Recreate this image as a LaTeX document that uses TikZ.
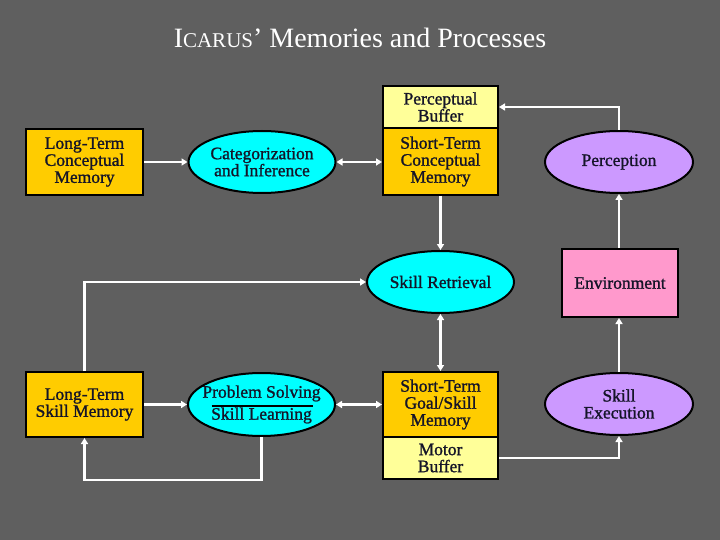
\documentclass[tikz,border=0pt]{standalone}
\usepackage{fontspec}
\setmainfont{Liberation Serif}
\newfontfamily\boxfont[FakeBold=1.2]{Liberation Serif}
\usetikzlibrary{shapes.geometric,arrows.meta}
\definecolor{bg}{HTML}{5F5F5F}
\definecolor{gold}{HTML}{FFCC00}
\definecolor{lyellow}{HTML}{FFFF99}
\definecolor{cyanb}{HTML}{00FFFF}
\definecolor{lav}{HTML}{CC99FF}
\definecolor{pinkb}{HTML}{FF99CC}
\definecolor{ink}{HTML}{141428}
\tikzset{
  base/.style={draw=black,line width=2pt,align=center,inner sep=0pt,
    font=\boxfont\fontsize{17.5}{17}\selectfont,text=ink},
  mem/.style={base,rectangle,fill=gold},
  buf/.style={base,rectangle,fill=lyellow},
  oval/.style={base,ellipse,inner xsep=-40pt,inner ysep=-6pt},
  proc/.style={oval,fill=cyanb,minimum width=147pt,minimum height=62pt},
  ext/.style={oval,fill=lav,minimum width=148pt,minimum height=62pt},
  env/.style={base,rectangle,fill=pinkb},
  arr/.style={draw=white,line width=2.5pt,-{Triangle[length=6pt,width=7pt]}},
  darr/.style={draw=white,line width=2.5pt,{Triangle[length=6pt,width=7pt]}-{Triangle[length=6pt,width=7pt]}},
  ln/.style={draw=white,line width=2.5pt}
}
\begin{document}
\begin{tikzpicture}[x=1pt,y=-1pt]
\fill[bg] (0,0) rectangle (720,540);
\useasboundingbox (0,0) rectangle (720,540);
\node[anchor=base,text=white,inner sep=0pt,font=\fontsize{28}{28}\selectfont] (title) at (360,48)
  {I{\fontsize{21}{21}\selectfont CARUS}’ Memories and Processes};
% nodes
\node[mem,minimum width=117pt,minimum height=66pt] (ltcm) at (84.5,162) {Long-Term\\Conceptual\\Memory};
\node[proc] (cat) at (262,162) {Categorization\\and Inference};
\node[buf,minimum width=115pt,minimum height=42pt] (pb) at (440.5,107) {Perceptual\\Buffer};
\node[mem,minimum width=115pt,minimum height=67pt] (stcm) at (440.5,161.5) {Short-Term\\Conceptual\\Memory};
\node[ext] (perc) at (619,162) {Perception};
\node[proc] (sr) at (440.5,282) {Skill Retrieval};
\node[env,minimum width=116pt,minimum height=68pt] (env) at (620,283) {Environment};
\node[mem,minimum width=117pt,minimum height=65pt] (ltsm) at (84.5,404.5) {Long-Term\\Skill Memory};
\node[proc,minimum height=63pt,font=\boxfont\fontsize{17.5}{22}\selectfont] (ps) at (261.5,404.5) {Problem Solving\\Skill Learning};
\node[mem,minimum width=115pt,minimum height=65pt] (stgsm) at (440.5,404.5) {Short-Term\\Goal/Skill\\Memory};
\node[buf,minimum width=115pt,minimum height=42pt] (mb) at (440.5,458) {Motor\\Buffer};
\node[ext] (se) at (619,404) {Skill\\Execution};
\draw[black,line width=1.5pt] ([xshift=-50pt,yshift=-1.5pt]ps.center) -- ([xshift=51pt,yshift=-1.5pt]ps.center);
% connectors
\draw[arr] (ltcm.east) -- (cat.west);
\draw[darr] (cat.east) -- (cat.east -| stcm.west);
\draw[arr] (perc.north) |- (pb.east);
\draw[arr] (env.north -| perc.south) -- (perc.south);
\draw[arr] (stcm.south) -- (sr.north);
\draw[arr] (ltsm.north) |- (sr.west);
\draw[darr] (sr.south) -- (stgsm.north);
\draw[arr] (se.north) -- (se.north |- env.south);
\draw[arr] (ltsm.east) -- (ps.west);
\draw[darr] (ps.east) -- (ps.east -| stgsm.west);
\coordinate (low) at (ps.south |- mb.south);
\draw[arr] (ps.south) -- (low) -| (ltsm.south);
\draw[arr] (mb.east) -| (se.south);
\end{tikzpicture}
\end{document}
